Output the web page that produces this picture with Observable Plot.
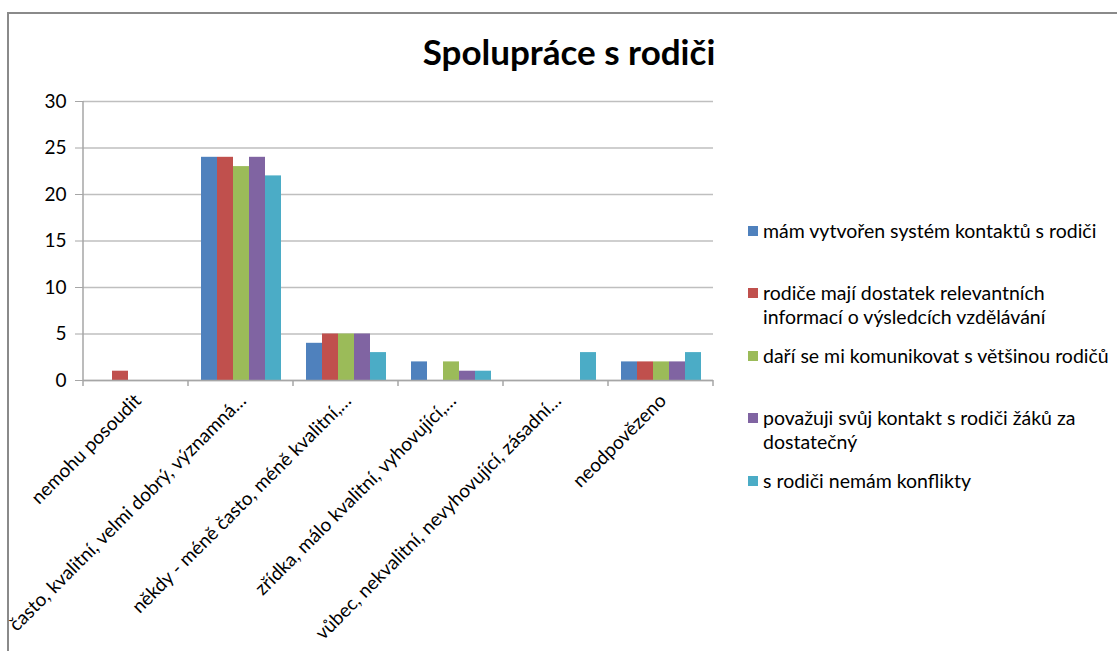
<!DOCTYPE html>
<html><head><meta charset="utf-8">
<script src="https://cdn.jsdelivr.net/npm/d3@7"></script>
<script src="https://cdn.jsdelivr.net/npm/@observablehq/plot@0.6"></script>
<style>
body{margin:0;background:#fff;font-family:Lato,sans-serif;}
#frame{position:absolute;left:7px;top:12px;width:1120px;height:650px;border-left:2px solid #8a8a8a;border-top:2px solid #8a8a8a;}
#title{position:absolute;left:0;width:1138px;top:30px;text-align:center;font-weight:bold;font-size:35px;line-height:42px;color:#000;}
#chart{position:absolute;left:0;top:90px;}
#legend{position:absolute;left:748px;top:0;}
.item{position:absolute;left:0;display:flex;white-space:nowrap;font-size:19.5px;line-height:24px;color:#000;}
.sw{display:inline-block;width:10px;height:10px;margin:7px 5px 0 0;flex:none;}
</style></head>
<body>
<div id="frame"></div>
<div id="title">Spolupráce s rodiči</div>
<div id="chart"></div>
<div id="legend"></div>
<script>
const categories = [
  "nemohu posoudit",
  "často, kvalitní, velmi dobrý, významná…",
  "někdy - méně často, méně kvalitní,…",
  "zřídka, málo kvalitní, vyhovující,…",
  "vůbec, nekvalitní, nevyhovující, zásadní…",
  "neodpovězeno"
];
const seriesNames = [
  "mám vytvořen systém kontaktů s rodiči",
  "rodiče mají dostatek relevantních informací o výsledcích vzdělávání",
  "daří se mi komunikovat s většinou rodičů",
  "považuji svůj kontakt s rodiči žáků za dostatečný",
  "s rodiči nemám konflikty"
];
const legendLines = [
  ["mám vytvořen systém kontaktů s rodiči"],
  ["rodiče mají dostatek relevantních", "informací o výsledcích vzdělávání"],
  ["daří se mi komunikovat s většinou rodičů"],
  ["považuji svůj kontakt s rodiči žáků za", "dostatečný"],
  ["s rodiči nemám konflikty"]
];
const colors = ["#4F81BD", "#C0504D", "#9BBB59", "#8064A2", "#4BACC6"];
const kontakty   = [0, 24, 4, 2, 0, 2];
const informace  = [1, 24, 5, 0, 0, 2];
const komunikace = [0, 23, 5, 2, 0, 2];
const dostatecny = [0, 24, 5, 1, 0, 2];
const konflikty  = [0, 22, 3, 1, 3, 3];
const yTicks = [0, 5, 10, 15, 20, 25, 30];

const seriesValues = [kontakty, informace, komunikace, dostatecny, konflikty];
const table = [];
categories.forEach((c, i) => seriesValues.forEach((vals, j) => {
  table.push({category: c, series: seriesNames[j], value: vals[i]});
}));

const chart = Plot.plot({
  width: 720, height: 561,
  marginTop: 11, marginBottom: 271, marginLeft: 80, marginRight: 5,
  style: {fontFamily: "Lato, sans-serif", fontSize: "19px", color: "#000", background: "transparent"},
  fx: {domain: categories, padding: 0, label: null},
  x: {domain: seriesNames, paddingInner: 0, paddingOuter: 0.75, axis: null},
  y: {domain: [0, 30], label: null},
  color: {domain: seriesNames, range: colors},
  marks: [
    Plot.gridY(yTicks, {stroke: "#bfbfbf", strokeOpacity: 1, strokeWidth: 1.5}),
    Plot.barY(table, {fx: "category", x: "series", y: "value", fill: "series"}),
    Plot.ruleY([0], {stroke: "#a6a6a6", strokeWidth: 1.5}),
    Plot.axisY(yTicks, {tickSize: 8, tickPadding: 9, stroke: "#a6a6a6", label: null, fontSize: 19}),
    Plot.axisFx({anchor: "bottom", tickRotate: -45, tickSize: 0, tickPadding: 17, dx: 2, label: null, fontSize: 19})
  ]
});

// boundary ticks and vertical axis line, positioned by the plot's own scales
const fxs = chart.scale("fx"), ys = chart.scale("y");
const bounds = categories.map(c => fxs.apply(c));
bounds.push(fxs.apply(categories[categories.length - 1]) + fxs.bandwidth);
const g = d3.select(chart).append("g").attr("stroke", "#a6a6a6").attr("stroke-width", 1.5);
g.selectAll("line.b").data(bounds).join("line")
  .attr("x1", d => d).attr("x2", d => d)
  .attr("y1", ys.apply(0)).attr("y2", ys.apply(0) + 6);
g.append("line").attr("x1", bounds[0]).attr("x2", bounds[0])
  .attr("y1", ys.apply(30)).attr("y2", ys.apply(0));
document.getElementById("chart").appendChild(chart);

const tops = [219, 281, 344, 406, 469];
const legend = d3.select("#legend");
legendLines.forEach((lines, i) => {
  const it = legend.append("div").attr("class", "item").style("top", tops[i] + "px");
  it.append("span").attr("class", "sw").style("background", colors[i]);
  it.append("div").html(lines.join("<br>"));
});
</script>
</body></html>
